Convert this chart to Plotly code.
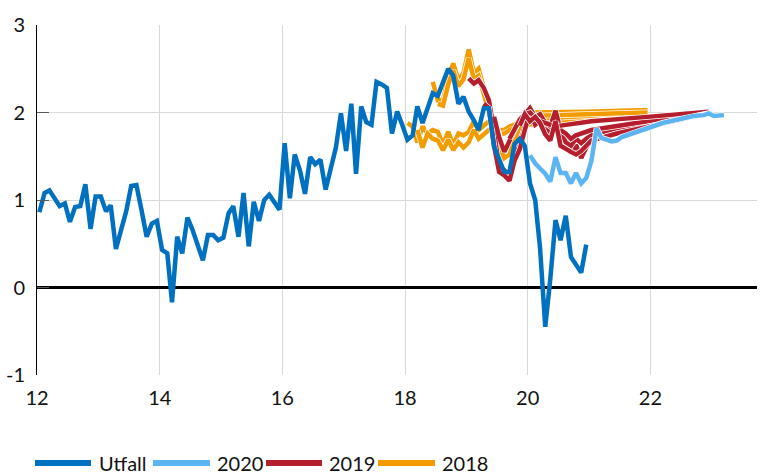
import pandas as pd
import plotly.graph_objects as go

# Outcome, monthly from January 2012
utfall_start = "2012-01"
utfall = [
    0.86, 1.08, 1.11, 1.01, 0.93, 0.96, 0.75, 0.92, 0.93, 1.18, 0.67, 1.04,
    1.04, 0.87, 0.94, 0.44, 0.66, 0.87, 1.16, 1.17, 0.88, 0.58, 0.73, 0.76,
    0.43, 0.39, -0.17, 0.58, 0.39, 0.80, 0.66, 0.49, 0.31, 0.60, 0.60, 0.54,
    0.57, 0.85, 0.93, 0.58, 1.08, 0.47, 0.98, 0.76, 1.00, 1.06, 0.98, 0.89,
    1.65, 1.02, 1.52, 1.34, 1.07, 1.49, 1.41, 1.46, 1.12, 1.36, 1.60, 1.99,
    1.56, 2.10, 1.30, 2.07, 1.89, 1.86, 2.35, 2.32, 2.28, 1.76, 2.01, 1.86,
    1.69, 1.74, 2.07, 1.88, 2.05, 2.22, 2.19, 2.35, 2.50, 2.42, 2.10, 2.18,
    2.01, 1.91, 1.80, 2.05, 2.05, 1.61, 1.46, 1.32, 1.32, 1.64, 1.70, 1.62,
    1.19, 1.00, 0.45, -0.45, 0.10, 0.77, 0.54, 0.82, 0.35, 0.26, 0.17, 0.49,
]

# Forecast paths: (first month, monthly values, [(later month, value), ...])
paths_2018 = [
    ("2018-01",
     [1.88, 1.84, 1.66, 1.84, 1.76, 1.80, 1.78, 1.63, 1.78, 1.63, 1.76, 1.74,
      1.78, 1.90, 1.80, 1.86, 1.90, 1.84, 1.80, 1.80, 1.84, 1.86, 1.88, 1.90],
     [("2020-12", 1.93), ("2021-12", 1.97)]),
    ("2018-03",
     [1.80, 1.60, 1.76, 1.70, 1.68, 1.57, 1.69, 1.57, 1.66, 1.60,
      1.66, 1.80, 1.70, 1.76, 1.80, 1.78, 1.74, 1.76, 1.80, 1.82, 1.84, 1.86],
     [("2020-12", 1.90), ("2021-12", 1.95)]),
    ("2018-06",
     [2.35, 2.14, 2.14, 2.40, 2.56, 2.37, 2.45,
      2.72, 2.45, 2.50, 2.28, 2.08, 1.86, 1.70, 1.55, 1.58, 1.72, 1.88, 1.98, 2.00],
     [("2020-12", 2.01), ("2021-12", 2.03)]),
    ("2018-07",
     [2.10, 2.08, 2.32, 2.48, 2.30, 2.38,
      2.62, 2.38, 2.42, 2.20, 2.00, 1.80, 1.62, 1.48, 1.52, 1.68, 1.84, 1.94, 1.96],
     [("2020-12", 1.98), ("2021-12", 2.00)]),
]

paths_2019 = [
    ("2019-01",
     [2.39, 2.33, 2.37, 2.28, 2.14, 1.80, 1.36, 1.34, 1.27, 1.49, 1.62, 1.85,
      2.03, 1.92, 1.95, 1.80, 1.82, 2.01, 1.74, 1.70, 1.53, 1.63, 1.48, 1.60, 1.68],
     [("2021-06", 1.78), ("2021-12", 1.86), ("2022-06", 1.94), ("2022-12", 2.00)]),
    ("2019-04",
     [2.10, 2.05, 1.62, 1.32, 1.28, 1.22, 1.45, 1.58, 1.80,
      2.00, 1.86, 1.90, 1.82, 1.76, 1.97, 1.78, 1.66, 1.62, 1.70, 1.65, 1.70, 1.74],
     [("2021-06", 1.82), ("2021-12", 1.88), ("2022-12", 2.00)]),
    ("2019-06",
     [1.95, 1.72, 1.55, 1.68, 1.82, 1.92, 1.98,
      2.05, 1.95, 1.98, 1.88, 1.84, 2.02, 1.80, 1.76, 1.70, 1.74, 1.76, 1.78, 1.80],
     [("2021-12", 1.90), ("2022-12", 2.00)]),
    ("2019-09",
     [1.70, 1.80, 1.92, 1.98,
      2.00, 1.94, 1.90, 1.88, 1.86, 1.84, 1.85, 1.86, 1.87, 1.88, 1.88, 1.89, 1.90],
     [("2021-12", 1.95), ("2022-12", 2.01)]),
    ("2019-11",
     [1.85, 1.98,
      1.90, 1.95, 1.88, 1.75, 1.68, 1.90, 1.62, 1.58, 1.55, 1.52, 1.56, 1.62, 1.68],
     [("2021-06", 1.76), ("2021-12", 1.84), ("2022-06", 1.92), ("2022-12", 1.99)]),
]

paths_2020 = [
    ("2020-01",
     [1.51, 1.42, 1.36, 1.30, 1.21, 1.49, 1.31, 1.31, 1.19, 1.31, 1.19, 1.25,
      1.45, 1.82, 1.71, 1.69, 1.67, 1.68, 1.72, 1.74, 1.76, 1.78, 1.80, 1.82],
     [("2022-03", 1.88), ("2022-06", 1.92), ("2022-09", 1.96), ("2022-11", 1.97),
      ("2022-12", 1.99), ("2023-01", 1.96), ("2023-02", 1.97), ("2023-03", 1.97)]),
]

series_names = ["Utfall", "2020", "2019", "2018"]
series_colors = ["#0070C0", "#5DB4F2", "#B51E2D", "#F39C00"]

y_ticks = [-1, 0, 1, 2, 3]

FONT = "Lato, 'Open Sans', sans-serif"
MID = pd.Timedelta(days=14)


def month_dates(start, n):
    return list(pd.date_range(start + "-01", periods=n, freq="MS") + MID)


def path_xy(start, monthly, later):
    xs = month_dates(start, len(monthly)) + [pd.Timestamp(d + "-01") + MID for d, _ in later]
    ys = list(monthly) + [v for _, v in later]
    return xs, ys


fig = go.Figure()

# forecast vintages, oldest at the bottom; each path gets a thin white edge
for paths, color in [(paths_2018, series_colors[3]),
                     (paths_2019, series_colors[2]),
                     (paths_2020, series_colors[1])]:
    for start, monthly, later in paths:
        xs, ys = path_xy(start, monthly, later)
        fig.add_trace(go.Scatter(x=xs, y=ys, mode="lines", hoverinfo="skip",
                                 line=dict(color="white", width=6),
                                 showlegend=False))
        fig.add_trace(go.Scatter(x=xs, y=ys, mode="lines",
                                 line=dict(color=color, width=4.5),
                                 showlegend=False))

fig.add_trace(go.Scatter(x=month_dates(utfall_start, len(utfall)), y=utfall,
                         mode="lines", name="Utfall",
                         line=dict(color=series_colors[0], width=4.5),
                         showlegend=False))

# legend drawn along the bottom edge
L, W_PLOT, B, H_PLOT = 37, 720, 375, 350
legend_items = [(35, 91, 97), (153, 210, 215), (266, 322, 327), (378, 435, 440)]
legend_y = 463
shapes, annotations = [], []
for (x0, x1, xt), name, color in zip(legend_items, series_names, series_colors):
    shapes.append(dict(type="line", xref="paper", yref="paper",
                       x0=(x0 - L) / W_PLOT, x1=(x1 - L) / W_PLOT,
                       y0=(B - legend_y) / H_PLOT, y1=(B - legend_y) / H_PLOT,
                       line=dict(color=color, width=6)))
    annotations.append(dict(text=name, xref="paper", yref="paper",
                            x=(xt - L) / W_PLOT, y=(B - legend_y) / H_PLOT,
                            xanchor="left", yanchor="middle", showarrow=False,
                            font=dict(family=FONT, size=20, color="#111111")))

fig.update_layout(
    width=763, height=474,
    margin=dict(l=L, r=763 - L - W_PLOT, t=B - H_PLOT, b=474 - B),
    paper_bgcolor="white", plot_bgcolor="white",
    font=dict(family=FONT, size=20, color="#111111"),
    shapes=shapes, annotations=annotations,
    xaxis=dict(type="date", range=["2012-01-01", "2023-09-28"],
               tick0="2012-01-01", dtick="M24", tickformat="%y",
               showgrid=True, gridcolor="#D9D9D9", gridwidth=1,
               zeroline=False, showline=False, ticks="",
               ticklabelstandoff=9),
    yaxis=dict(range=[-1, 3], tickvals=y_ticks,
               ticktext=[str(v) for v in y_ticks],
               showgrid=True, gridcolor="#D9D9D9", gridwidth=1,
               zeroline=True, zerolinecolor="black", zerolinewidth=3,
               showline=True, linecolor="black", linewidth=1,
               ticks="inside", ticklen=12, tickcolor="#595959", tickwidth=1,
               ticklabelstandoff=7),
)

fig.write_html("out.html")
